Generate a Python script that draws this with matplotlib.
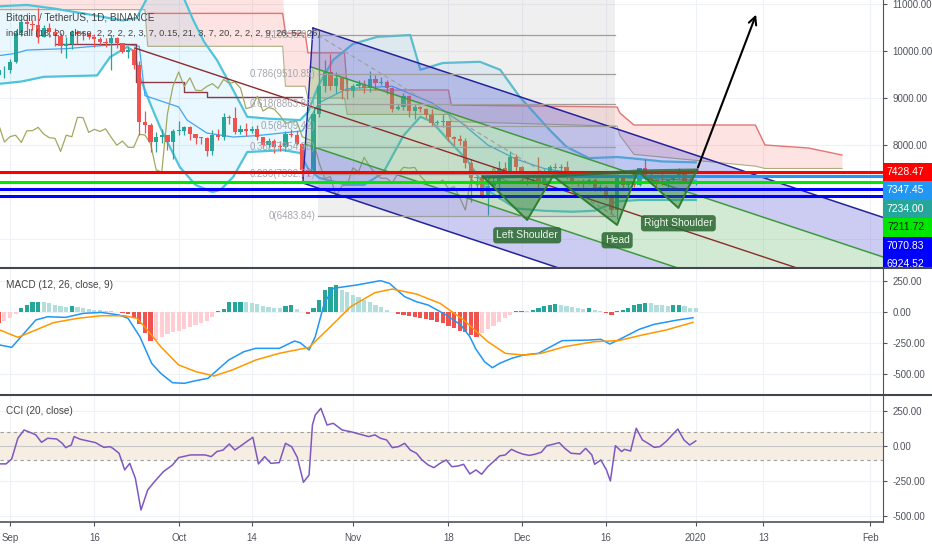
import numpy as np
import matplotlib.pyplot as plt
from matplotlib.patches import Polygon, Rectangle
from matplotlib.lines import Line2D

plt.rcParams['font.family'] = ['Liberation Sans Narrow', 'Liberation Sans', 'DejaVu Sans']

W, H = 932, 550

# ---------------- data (day 0 = 1 Sep 2019) ----------------
first_day = -2
first_open = 9485
closes = [9585, 9600,
          9768, 10385, 10616, 10570, 10556, 10308, 10483, 10405, 10323, 10115,
          10159, 10412, 10360, 10358, 10306, 10262, 10186, 10164, 10272, 10168,
          9986, 10028, 9702, 8494, 8430, 8063, 8178, 8208, 8055, 8302,
          8305, 8376, 8233, 8155, 8142, 7863, 8208, 8175, 8588, 8582,
          8267, 8334, 8288, 8344, 8163, 7996, 8083, 7952, 7950, 8226,
          8213, 8030, 7471, 7422, 8659, 9256, 9552, 9245, 9430, 9168, 9154,
          9245, 9306, 9204, 9397, 9310, 9340, 9211, 8773, 8809, 9038,
          8723, 8798, 8761, 8633, 8460, 8487, 8502, 8176, 8120, 8079,
          7618, 7289, 7326, 6906, 7125, 7160, 7513, 7428, 7739, 7541,
          7390, 7293, 7292, 7195, 7393, 7525, 7509, 7523, 7338, 7218,
          7200, 7189, 7253, 7068, 7112, 6882, 6617, 7290, 7149, 7190,
          7146, 7510, 7317, 7255, 7205, 7195, 7247, 7311, 7385, 7220, 7168,
          7234]
highs = [9690, 9680,
         9830, 10445, 10790, 10800, 10650, 10920, 10560, 10595, 10490, 10390,
         10300, 10450, 10440, 10420, 10380, 10370, 10290, 10270, 10350, 10300,
         10170, 10100, 10060, 9790, 8730, 8470, 8275, 8330, 8220, 8330,
         8500, 8395, 8400, 8240, 8180, 8160, 8320, 8330, 8680, 8640,
         8800, 8430, 8470, 8400, 8420, 8170, 8140, 8120, 8090, 8300,
         8330, 8300, 8050, 7500, 8800, 10370, 9800, 9940, 9550, 9440, 9420,
         9300, 9375, 9375, 9580, 9480, 9440, 9375, 9240, 8880, 9100,
         9070, 8880, 8830, 8790, 8775, 8530, 8650, 8510, 8195, 8210,
         8150, 7710, 7350, 7340, 7370, 7350, 7650, 7640, 7870, 7800,
         7550, 7400, 7410, 7750, 7480, 7580, 7620, 7600, 7660, 7400,
         7260, 7280, 7300, 7290, 7180, 7140, 6950, 7440, 7350, 7220,
         7200, 7520, 7700, 7440, 7270, 7440, 7275, 7365, 7520, 7410, 7310,
         7250]
lows = [9340, 9420,
        9525, 9735, 10320, 10400, 10450, 10160, 10300, 10300, 10100, 9950,
        9850, 10050, 10150, 10230, 10250, 10080, 10130, 10090, 9600, 10060,
        9960, 9860, 9620, 8215, 8265, 7850, 7860, 8040, 7900, 7710,
        8215, 8220, 8100, 8020, 8030, 7770, 7790, 8110, 8100, 8450,
        8240, 8240, 8200, 8250, 8100, 7930, 7930, 7830, 7880, 7870,
        8160, 7990, 7300, 7350, 7400, 8600, 9120, 9170, 9100, 8970, 8980,
        9030, 9220, 9100, 9120, 9170, 9270, 9090, 8700, 8740, 8740,
        8600, 8560, 8710, 8570, 8400, 8430, 8390, 8075, 7990, 8010,
        7500, 6790, 7090, 6865, 6515, 7070, 6860, 7360, 7420, 7450,
        7220, 7150, 7230, 7080, 7170, 7300, 7480, 7420, 7280, 7160,
        7130, 7090, 7180, 7030, 7020, 6860, 6560, 6435, 7040, 7080,
        7110, 7130, 7260, 7160, 7130, 7150, 7060, 7240, 7280, 7200, 7150,
        7150]

# cloud
cloud_days = [-2, 24, 24.5, 48.5, 49, 52.5, 53, 59.5, 60, 78, 78.5, 108, 108.5, 111, 132.6, 134.3, 142, 148]
cloud_top = [11100, 11100, 11100, 11100, 10380, 10380, 9960, 9960, 9170, 9170, 8850, 8808, 8680, 8425, 8425, 8000, 7936, 7787]
cloud_bot = [10880, 10880, 10100, 10100, 9250, 9250, 9000, 9000, 8650, 8650, 8500, 8400, 8200, 7800, 7550, 7500, 7500, 7500]
red_days = [24.5, 48.5, 49, 52.5, 53, 59.5, 60, 78, 78.5, 108, 108.5, 111, 132.6, 134.3, 142, 148]
red_vals = [10800, 10800, 10380, 10380, 9960, 9960, 9170, 9170, 8850, 8808, 8680, 8425, 8425, 8000, 7936, 7787]

# bands
bb_up_days = [-2, 3, 8, 14, 20, 22.5, 24.5, 28, 31, 32.6, 34.5, 36.8, 39.7, 42.2, 46, 51.6, 53, 55, 57.5, 61,
              65.3, 71.2, 73, 77, 83.6, 87.2, 90.7, 96, 99, 103, 108, 112, 116, 122]
bb_up = [10950, 10980, 10900, 10780, 10650, 10700, 11150, 11400, 11100, 10660, 10200, 9810, 9170, 8600, 8560,
         8530, 8700, 9300, 9810, 10150, 10300, 10340, 9600, 9745, 9770, 9600, 9020, 8320, 7960, 7720, 7745,
         7700, 7650, 7630]
bb_lo_days = [-2, 2, 6, 15.5, 17.8, 20.8, 22, 23.1, 24.9, 26.7, 30.2, 33, 36, 37.5, 39.7, 42.2, 48.6, 51.6, 53,
              55, 60, 63, 66.4, 70, 73, 75, 78, 81.3, 84.9, 88.4, 90, 95, 100, 104, 108, 112, 122]
bb_lo = [9300, 9350, 9450, 9480, 9870, 10085, 10000, 9450, 8890, 8380, 7530, 7150, 7000, 7050, 7320, 7850,
         7890, 7830, 7500, 7300, 7150, 7150, 7410, 8200, 8600, 8500, 8100, 7680, 7040, 6770, 6650, 6600,
         6580, 6600, 6800, 6830, 6830]
mid_days = [-2, 1, 3, 10, 20, 23, 24, 30, 31.5, 35, 39.7, 44, 48, 52, 55, 60, 68, 75, 80, 85, 90, 95, 100, 110, 122]
mid_vals = [9900, 9950, 10020, 10050, 10150, 10100, 9050, 8810, 8530, 8255, 8170, 8200, 8250, 8300, 8900,
            9200, 9250, 8900, 8500, 8000, 7700, 7500, 7400, 7300, 7250]
base_days = [8, 22.5, 22.5, 31, 31, 35, 35, 52]
base_vals = [10150, 10150, 9340, 9340, 9130, 9130, 9020, 9020]
lag_shift = 26

# drawings
fork_days = [22.2, 53.9, 52.1]
fork_prices = [10064, 10489, 7191]
fib_low, fib_high = 6483.84, 10335.00
fib_levels = [0, 0.236, 0.382, 0.5, 0.618, 0.786, 1]
fib_days = [54.8, 107.7]
hs_days = [84.2, 92.0, 96.6, 108.0, 111.7, 118.9, 122.2]
hs_prices = [7319, 6404, 7340, 6298, 7447, 6660, 7468]
hs_names = ['Left Shoulder', 'Head', 'Right Shoulder']
arrow_days = [122.2, 132.9]
arrow_prices = [7468, 10830]
line_prices = [7428.47, 7347.45, 7211.72, 7070.83, 6924.52]
line_from = [-2, 84, -2, -2, -2]
scale_prices = [7428.47, 7347.45, 7234.00, 7211.72, 7070.83, 6924.52]

# MACD
macd_days = [-1.8, 0.3, 4.6, 6.7, 9.9, 13.0, 16.2, 19.4, 21.0, 23.1, 25.2, 26.8, 28.9, 31.0, 33.1, 35.2, 38.9,
             41.6, 43.7, 47.9, 50.6, 51.6, 53.2, 54.3, 55.9, 57.5, 61.7, 65.9, 67.5, 70.2, 72.3, 74.4, 77.6,
             80.2, 81.8, 82.8, 84.4, 85.8, 87.1, 89.2, 91.3, 94.0, 98.2, 103.0, 105.1, 106.7, 108.2, 111.9,
             114.6, 118.8, 121.5]
macd_vals = [-266, -285, -64, -38, -43, -11, -3, -24, -51, -199, -414, -494, -570, -575, -553, -535, -387,
             -320, -293, -293, -234, -247, -306, -199, 70, 191, 218, 253, 231, 124, 83, 56, -24,
             -105, -199, -293, -400, -449, -414, -374, -347, -333, -231, -226, -220, -258, -226, -140,
             -99, -64, -46]
signal_days = [-1.8, 1.4, 4.6, 7.7, 12.0, 16.2, 20.4, 22.6, 24.7, 26.8, 30.0, 33.1, 36.3, 39.5, 43.7, 47.9,
               53.2, 56.4, 60.6, 64.9, 68.0, 72.3, 76.5, 80.7, 85.0, 88.1, 91.3, 94.5, 98.7, 104.0, 108.2,
               112.5, 116.7, 121.5]
signal_vals = [-145, -204, -145, -86, -51, -30, -30, -51, -159, -279, -427, -481, -516, -468, -387, -333,
               -285, -145, 43, 156, 185, 145, 70, -64, -239, -333, -347, -333, -279, -239, -231,
               -185, -145, -83]
hist_vals = [-90, -75, -50, -15, 30, 60, 78, 82, 78, 70, 60, 50, 40, 45, 38, 30, 25, 20, 15, 12, 8, 4,
             -8, -15, -50, -100, -170, -230, -225, -200, -180, -165, -150, -135, -120, -105, -90, -70, -40,
             5, 25, 80, 82, 84, 82, 75, 65, 50, 40, 35, 30, 45, 55, 25, 3, -12, 30, 100, 175, 205, 215,
             180, 160, 140, 120, 100, 80, 60, 40, 20, 3, -15, -25, -35, -40, -50, -55, -65, -80, -85,
             -110, -130, -150, -165, -185, -200, -170, -140, -110, -80, -50, -20, 8, 10, 8, 15, 30, 45,
             55, 65, 60, 50, 40, 30, 22, 30, 20, 10, -5, -20, 10, 20, 35, 55, 65, 75, 70, 60, 55, 50,
             55, 58, 45, 35, 30]

# CCI
cci_days = [-1.8, -0.7, 0.3, 1.4, 2.5, 4.0, 4.6, 5.6, 6.7, 8.3, 9.3, 9.9, 10.9, 11.4, 12.5, 15.2, 16.7, 17.8,
            18.3, 19.4, 20.4, 21.3, 22.3, 23.3, 24.5, 25.7, 27.3, 28.9, 30.0, 32.1, 34.7, 35.8, 36.8, 37.9,
            39.0, 40.0, 41.1, 42.1, 43.2, 44.2, 45.3, 46.4, 47.9, 49.0, 50.1, 51.1, 52.2, 53.2, 53.8, 54.3,
            55.3, 56.4, 57.5, 59.1, 60.6, 61.7, 62.7, 63.8, 64.9, 65.9, 67.0, 68.0, 69.1, 70.2, 71.2, 72.3,
            73.3, 74.4, 75.4, 76.5, 77.6, 78.6, 79.7, 80.7, 81.8, 82.9, 83.9, 85.0, 86.0, 87.1, 88.1, 89.2,
            90.3, 91.3, 92.4, 93.4, 94.5, 95.5, 96.6, 97.7, 98.7, 99.8, 101.4, 102.4, 103.5, 104.0, 105.1,
            106.1, 106.8, 107.7, 108.8, 109.3, 110.4, 111.4, 112.5, 113.5, 114.6, 115.6, 116.7, 117.8,
            118.8, 119.9, 120.9, 122.0]
cci_vals = [-128, -128, -93, 55, 114, 90, 79, 26, 55, 50, 19, -12, 7, 67, 48, 24, -10, -5, -17, -52, -171,
            -124, -231, -457, -314, -255, -183, -136, -83, -64, -64, -76, -40, -29, 14, -29, 2, 31, 62, -128,
            -76, -124, -119, 19, -5, -81, -259, -207, 150, 221, 269, 150, 162, 114, 102, 90, 79, 67, 79, 55,
            43, -12, -5, 19, -29, -52, -100, -136, -155, -124, -100, -148, -143, -131, -200, -171, -202,
            -148, -112, -71, -64, -24, -45, -59, -67, -59, -45, 2, 12, 24, -17, -52, -57, -17, -64, -131,
            -100, -171, -250, 2, -40, -24, -36, 126, 43, 19, -10, -5, 31, 79, 121, 43, 7, 36]

tick_days = [0, 15, 30, 43, 61, 78, 91, 106, 122, 134, 153]
tick_labels = ['Sep', '16', 'Oct', '14', 'Nov', '18', 'Dec', '16', '2020', '13', 'Feb']

# ---------------- figure ----------------
fig = plt.figure(figsize=(W / 100, H / 100), dpi=100)


def px_rect(x0, y0, x1, y1):
    return [x0 / W, 1 - y1 / H, (x1 - x0) / W, (y1 - y0) / H]


ax = fig.add_axes(px_rect(0, 0, 883, 267))
ax_macd = fig.add_axes(px_rect(0, 268, 883, 393), sharex=ax)
ax_cci = fig.add_axes(px_rect(0, 395, 883, 522), sharex=ax)
pax = fig.add_axes(px_rect(883, 0, 932, 267))

axis_col = '#50535e'
grid_col = '#eef1f6'
for a in (ax, ax_macd, ax_cci):
    for s in ('left', 'top', 'bottom'):
        a.spines[s].set_visible(False)
    a.spines['right'].set_color(axis_col)
    a.spines['right'].set_linewidth(0.8)
    a.yaxis.tick_right()
    a.tick_params(axis='y', length=3, pad=4, labelsize=7, colors=axis_col)
    for d in tick_days:
        a.axvline(d, color=grid_col, lw=0.8, zorder=0)
ax.set_xlim(-1.78, 155.3)

# ---- main price panel ----
y_lo, y_hi = 5404, 11085
ax.set_ylim(y_lo, y_hi)
for p in range(6000, 11001, 1000):
    ax.axhline(p, color=grid_col, lw=0.8, zorder=0)
price_ticks = [8000, 9000, 10000, 11000]
ax.set_yticks(price_ticks)
ax.set_yticklabels([f'{p:.2f}' for p in price_ticks])
ax.tick_params(axis='x', bottom=False, labelbottom=False)

days = np.arange(first_day, first_day + len(closes))
closes = np.array(closes, dtype=float)
opens = np.concatenate([[first_open], closes[:-1]])
highs = np.array(highs, dtype=float)
lows = np.array(lows, dtype=float)

# ichimoku-like cloud
ax.fill_between(cloud_days, cloud_bot, cloud_top, color='#f44336', alpha=0.15, lw=0, zorder=1)
ax.plot(red_days, red_vals, color='#e57373', lw=1.0, zorder=2)
ax.plot(cloud_days, cloud_bot, color='#9aa06a', lw=0.8, alpha=0.8, zorder=2)

# bands
ax.fill(np.concatenate([bb_up_days, bb_lo_days[::-1]]), np.concatenate([bb_up, bb_lo[::-1]]),
        color='#29b6f6', alpha=0.1, lw=0, zorder=1)
ax.plot(bb_up_days, bb_up, color='#4fc3d9', lw=1.6, zorder=2)
ax.plot(bb_lo_days, bb_lo, color='#4fc3d9', lw=1.6, zorder=2)
ax.plot(mid_days, mid_vals, color='#42a5f5', lw=0.9, zorder=2)
ax.plot(base_days, base_vals, color='#8d3a4a', lw=1.0, zorder=2)
ax.plot(days - lag_shift, closes, color='#a3a860', lw=0.9, zorder=2)

# candles
up = closes >= opens
col = np.where(up, '#26a69a', '#ef5350')
ax.vlines(days, lows, highs, colors=col, lw=0.9, zorder=3)
body_lo = np.minimum(opens, closes)
body_h = np.maximum(np.abs(closes - opens), 20)
ax.bar(days, body_h, bottom=body_lo, width=0.75, color=col, lw=0, zorder=3)

# fibonacci retracement
fib_vals = [fib_low + lv * (fib_high - fib_low) for lv in fib_levels]
ax.add_patch(Rectangle((fib_days[0], fib_low), fib_days[1] - fib_days[0], y_hi - fib_low + 200,
                       color='#a0a0a0', alpha=0.16, lw=0, zorder=3.5))
for lv, pv in zip(fib_levels, fib_vals):
    ax.plot(fib_days, [pv, pv], color='#9e9e9e', lw=0.9, zorder=5)
    ax.text(fib_days[0] - 0.4, pv, f'{lv:g}({pv:.2f})', ha='right', va='center', fontsize=7,
            color='#a3a6ae', zorder=5)
ax.plot(fib_days, [fib_high, fib_low], color='#9e9e9e', lw=0.8, ls=(0, (4, 3)), zorder=5)

# pitchfork
pa = np.array([fork_days[0], fork_prices[0]])
pb = np.array([fork_days[1], fork_prices[1]])
pc = np.array([fork_days[2], fork_prices[2]])
pm = (pb + pc) / 2
u = pm - pa


def fork_line(k, end_day=170):
    s = pm + k * (pb - pm)
    e = s + (end_day - s[0]) / u[0] * u
    return s, e


fills = [(1, 0.5, '#5959d9', 0.30), (0.5, 0, '#4caf50', 0.25), (0, -0.5, '#4caf50', 0.25), (-0.5, -1, '#5959d9', 0.30)]
for k1, k2, fc, al in fills:
    s1, e1 = fork_line(k1)
    s2, e2 = fork_line(k2)
    ax.add_patch(Polygon([s1, e1, e2, s2], closed=True, facecolor=fc, alpha=al, lw=0, zorder=4))
for k, lc in [(1, '#23239a'), (0.5, '#3f9a3f'), (-0.5, '#3f9a3f'), (-1, '#23239a')]:
    s, e = fork_line(k)
    ax.plot([s[0], e[0]], [s[1], e[1]], color=lc, lw=1.1, zorder=4.5)
s0, e0 = fork_line(0)
ax.plot([pa[0], e0[0]], [pa[1], e0[1]], color='#8d2a2a', lw=1.0, zorder=4.5)
ax.plot([pb[0], pc[0]], [pb[1], pc[1]], color='#23239a', lw=1.0, zorder=4.5)

# horizontal levels
line_colors = ['#ff0000', '#2196f3', '#00e600', '#0000ff', '#0000ff']
for p, d0, lc in zip(line_prices, line_from, line_colors):
    ax.plot([d0, 160], [p, p], color=lc, lw=2.2, zorder=6)

# head and shoulders
pts = list(zip(hs_days, hs_prices))
for i in (0, 2, 4):
    ax.add_patch(Polygon(pts[i:i + 3], closed=True, facecolor='#2e7d32', alpha=0.45,
                         edgecolor='none', zorder=7))
    ax.plot(hs_days[i:i + 3], hs_prices[i:i + 3], color='#2e7d32', lw=1.4, zorder=7.5)
ax.plot(hs_days[0::2], hs_prices[0::2], color='#2e6b34', lw=2.2, alpha=0.8, zorder=7.5)
for name, i in zip(hs_names, (1, 3, 5)):
    ax.annotate(name, (hs_days[i], hs_prices[i]), xytext=(0, -11), textcoords='offset points',
                ha='center', va='center', fontsize=7.5, color='#eef6ee', zorder=9,
                bbox=dict(boxstyle='round,pad=0.3', fc='#2e6b34', ec='none', alpha=0.88))

ax.annotate('', xy=(arrow_days[1], arrow_prices[1]), xytext=(arrow_days[0], arrow_prices[0]),
            arrowprops=dict(arrowstyle='->', color='black', lw=1.5, mutation_scale=14), zorder=9)

# price scale labels
pax.set_xlim(0, 1)
pax.set_ylim(ax.get_ylim())
pax.axis('off')
scale_colors = ['#ff0000', '#2196f3', '#26a69a', '#00e600', '#0000ff', '#0000ff']
scale_text = ['white', 'white', 'white', '#102010', 'white', 'white']
box_h = 18.5 * (y_hi - y_lo) / 267
centers = []
for p in scale_prices:
    centers.append(p if not centers else min(p, centers[-1] - box_h))
for p, cy, bc, tc in zip(scale_prices, centers, scale_colors, scale_text):
    pax.add_patch(Rectangle((0, cy - box_h / 2), 1, box_h, color=bc, lw=0, clip_on=True))
    pax.text(0.46, cy, f'{p:.2f}', ha='center', va='center', fontsize=7.5, color=tc, clip_on=True)

# ---- MACD panel ----
ax_macd.set_ylim(-653, 355)
macd_ticks = [250, 0, -250, -500]
ax_macd.set_yticks(macd_ticks)
ax_macd.set_yticklabels([f'{v:.2f}' for v in macd_ticks])
ax_macd.tick_params(axis='x', bottom=False, labelbottom=False)
for v in macd_ticks:
    ax_macd.axhline(v, color=grid_col, lw=0.8, zorder=0)
hist_colors = []
prev = 0
for hv in hist_vals:
    if hv >= 0:
        hist_colors.append('#26a69a' if hv > prev else '#b2dfdb')
    else:
        hist_colors.append('#ef5350' if hv < prev else '#ffcdd2')
    prev = hv
ax_macd.bar(days, hist_vals, width=0.75, color=hist_colors, lw=0, zorder=2)
ax_macd.plot(macd_days, macd_vals, color='#2196f3', lw=1.1, zorder=3)
ax_macd.plot(signal_days, signal_vals, color='#ff9800', lw=1.1, zorder=3)

# ---- CCI panel ----
ax_cci.set_ylim(-543, 364)
cci_ticks = [250, 0, -250, -500]
ax_cci.set_yticks(cci_ticks)
ax_cci.set_yticklabels([f'{v:.2f}' for v in cci_ticks])
for v in cci_ticks:
    ax_cci.axhline(v, color=grid_col, lw=0.8, zorder=0)
ax_cci.axhspan(-100, 100, color='#f6eee2', lw=0, zorder=1)
ax_cci.axhline(0, color='#c8c8c8', lw=0.8, zorder=1.5)
for v in (100, -100):
    ax_cci.axhline(v, color='#9e9e9e', lw=0.8, ls=(0, (3, 3)), zorder=1.5)
ax_cci.plot(cci_days, cci_vals, color='#7e57c2', lw=1.1, zorder=3)
ax_cci.spines['bottom'].set_visible(True)
ax_cci.spines['bottom'].set_color(axis_col)
ax_cci.spines['bottom'].set_linewidth(1.2)
ax_cci.set_xticks(tick_days)
ax_cci.set_xticklabels(tick_labels)
ax_cci.tick_params(axis='x', length=3, pad=5, labelsize=7, colors=axis_col)

# separators and captions
for yy in (267.5, 394.5):
    fig.add_artist(Line2D([0, 1], [1 - yy / H, 1 - yy / H], color='#434651', lw=1.5))
txt_col = '#434343'
fig.text(6 / W, 1 - 17 / H, 'Bitcoin / TetherUS, 1D, BINANCE', fontsize=7.2, color=txt_col, va='center')
fig.text(6 / W, 1 - 33 / H,
         'ind4all (16, 20, close, 2, 2, 2, 2, 3, 7, 0.15, 21, 3, 7, 20, 2, 2, 2, 9, 26, 52, 26)',
         fontsize=6.7, color=txt_col, va='center')
fig.text(6 / W, 1 - 285 / H, 'MACD (12, 26, close, 9)', fontsize=7.2, color=txt_col, va='center')
fig.text(6 / W, 1 - 411 / H, 'CCI (20, close)', fontsize=7.2, color=txt_col, va='center')

fig.savefig('out.png', dpi=100)
